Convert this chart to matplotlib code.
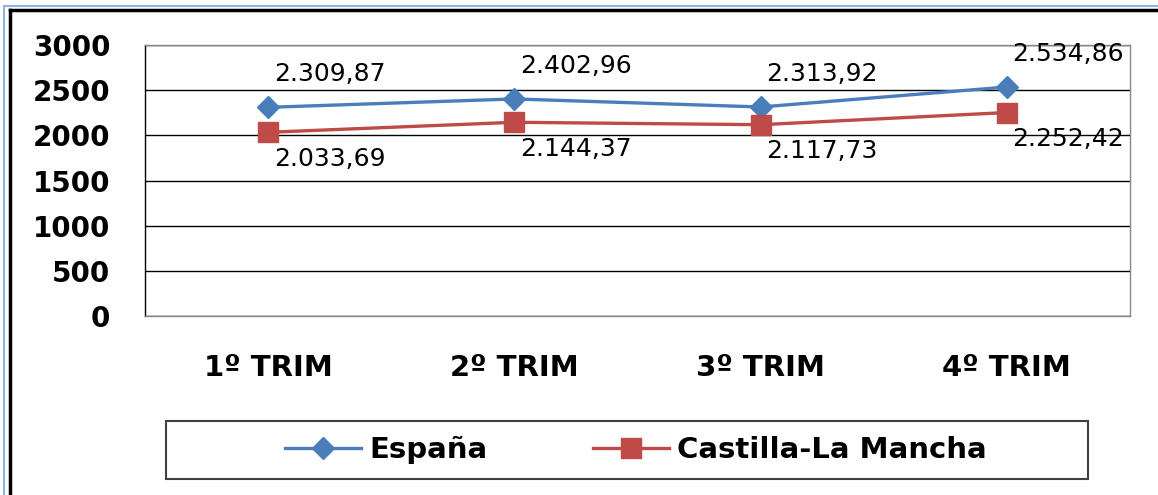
import matplotlib
matplotlib.use("Agg")
import matplotlib.pyplot as plt
from matplotlib.patches import Rectangle
from matplotlib.lines import Line2D

categories = ["1º TRIM", "2º TRIM", "3º TRIM", "4º TRIM"]
espana = [2309.87, 2402.96, 2313.92, 2534.86]
clm = [2033.69, 2144.37, 2117.73, 2252.42]
espana_labels = ["2.309,87", "2.402,96", "2.313,92", "2.534,86"]
clm_labels = ["2.033,69", "2.144,37", "2.117,73", "2.252,42"]
series_names = ["España", "Castilla-La Mancha"]
yticks = [0, 500, 1000, 1500, 2000, 2500, 3000]

W, H = 1158, 495
fig = plt.figure(figsize=(W / 100, H / 100), dpi=100)

# outer frames
fig.add_artist(Line2D([4 / W, 4 / W], [0, 1 - 6 / H], transform=fig.transFigure, color="#8EB4E3", lw=1.5))
fig.add_artist(Line2D([4 / W, 1], [1 - 6 / H, 1 - 6 / H], transform=fig.transFigure, color="#8EB4E3", lw=1.5))
fig.add_artist(Line2D([10 / W, 10 / W], [0, 1 - 10 / H], transform=fig.transFigure, color="black", lw=2.5))
fig.add_artist(Line2D([10 / W, 1], [1 - 10 / H, 1 - 10 / H], transform=fig.transFigure, color="black", lw=2.5))

left, right, top, bottom = 145, 1130, 45, 316
ax = fig.add_axes([left / W, 1 - bottom / H, (right - left) / W, (bottom - top) / H])

x = list(range(len(categories)))
blue = "#4A7EBB"
red = "#BE4B48"
ax.plot(x, espana, color=blue, lw=2.4, marker="D", ms=11, zorder=3, label=series_names[0])
ax.plot(x, clm, color=red, lw=2.4, marker="s", ms=14, zorder=3, label=series_names[1])

ax.set_xlim(-0.5, len(categories) - 0.5)
ax.set_ylim(0, 3000)
ax.set_yticks(yticks)
ax.set_yticklabels([str(v) for v in yticks], fontsize=20, fontweight="bold")
ax.set_xticks(x)
ax.set_xticklabels(categories, fontsize=21, fontweight="bold")
ax.tick_params(axis="both", length=0)
ax.tick_params(axis="y", pad=25)
ax.tick_params(axis="x", pad=27)
ax.grid(axis="y", color="black", lw=1)
ax.set_axisbelow(True)
for s in ax.spines.values():
    s.set_color("#868686")
    s.set_linewidth(1)
ax.spines["left"].set_color("black")

for xi, v, lab in zip(x, espana, espana_labels):
    ax.annotate(lab, (xi, v), xytext=(4, 24), textcoords="offset points",
                ha="left", va="center", fontsize=18, family="DejaVu Sans")
for xi, v, lab in zip(x, clm, clm_labels):
    ax.annotate(lab, (xi, v), xytext=(4, -19), textcoords="offset points",
                ha="left", va="center", fontsize=18, family="DejaVu Sans")

# legend box
lg_l, lg_r, lg_t, lg_b = 166, 1088, 421, 479
fig.add_artist(Rectangle((lg_l / W, 1 - lg_b / H), (lg_r - lg_l) / W, (lg_b - lg_t) / H,
                         transform=fig.transFigure, fill=False, ec="#404040", lw=1.5))
leg = fig.legend(loc="center", bbox_to_anchor=(636 / W, 1 - (lg_t + lg_b) / 2 / H),
                 ncol=2, frameon=False, prop={"size": 21, "weight": "bold", "family": "DejaVu Sans"},
                 handlelength=2.6, columnspacing=3.6, handletextpad=0.3)

fig.savefig("out.png", dpi=100)
